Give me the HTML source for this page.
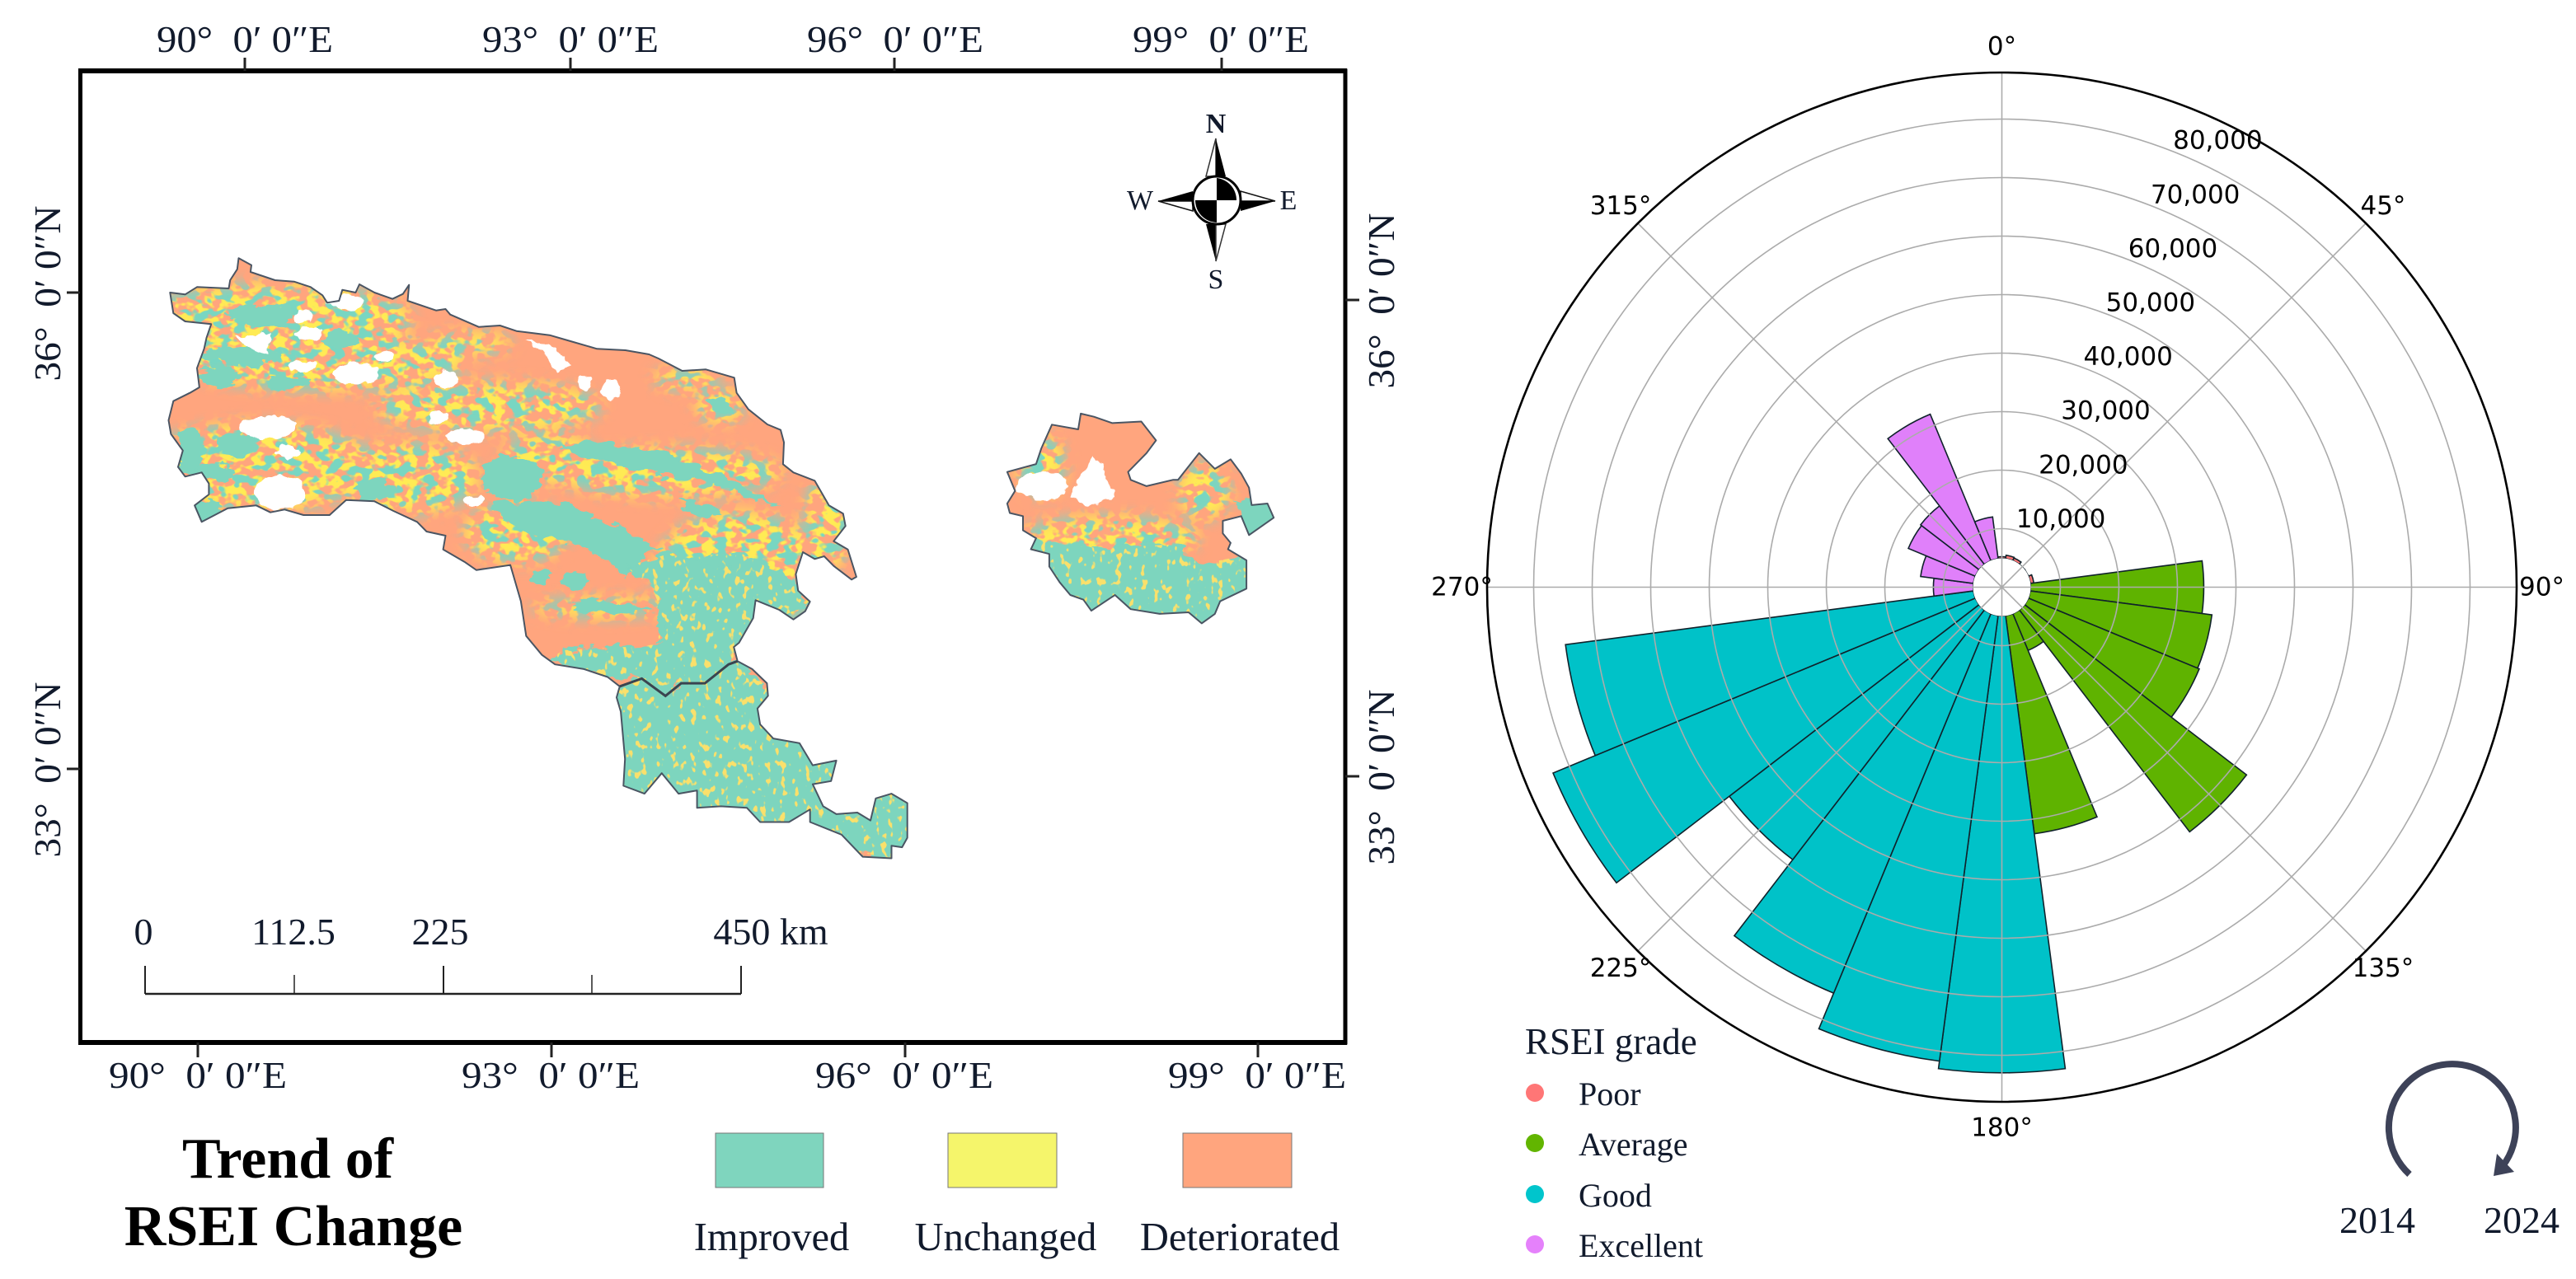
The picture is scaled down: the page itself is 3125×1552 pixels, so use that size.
<!DOCTYPE html>
<html lang="en">
<head>
<meta charset="utf-8">
<title>Trend of RSEI Change</title>
<style>
html,body{margin:0;padding:0;background:#fff;}
svg{display:block;}
.ser{font-family:"Liberation Serif",serif;fill:#111a2c;}
.dj{font-family:"DejaVu Sans",sans-serif;fill:#000;}
</style>
</head>
<body>
<svg id="root" xmlns="http://www.w3.org/2000/svg" width="3125" height="1552" viewBox="0 0 3125 1552">
<defs>
  <clipPath id="mapClip"><path id="mapClipMain"/><path id="mapClipEast"/></clipPath>
  <filter id="rough" x="-5%" y="-5%" width="110%" height="110%" color-interpolation-filters="sRGB">
    <feTurbulence type="fractalNoise" baseFrequency="0.05 0.09" numOctaves="3" seed="4" result="n"/>
    <feDisplacementMap in="SourceGraphic" in2="n" scale="20" xChannelSelector="R" yChannelSelector="G"/>
  </filter>
  <filter id="roughWhite" x="-5%" y="-5%" width="110%" height="110%" color-interpolation-filters="sRGB">
    <feTurbulence type="fractalNoise" baseFrequency="0.09" numOctaves="2" seed="9" result="n"/>
    <feDisplacementMap in="SourceGraphic" in2="n" scale="12" xChannelSelector="R" yChannelSelector="G"/>
  </filter>
  <filter id="speckYellow" x="0" y="0" width="100%" height="100%" color-interpolation-filters="sRGB">
    <feTurbulence type="fractalNoise" baseFrequency="0.075 0.1" numOctaves="2" seed="3"/>
    <feColorMatrix type="matrix" values="0 0 0 0 1  0 0 0 0 .92  0 0 0 0 .33  10 0 0 0 -4.6"/>
  </filter>
  <filter id="speckTeal" x="0" y="0" width="100%" height="100%" color-interpolation-filters="sRGB">
    <feTurbulence type="fractalNoise" baseFrequency="0.06 0.085" numOctaves="2" seed="17"/>
    <feColorMatrix type="matrix" values="0 0 0 0 .47  0 0 0 0 .84  0 0 0 0 .76  12 0 0 0 -6.3"/>
  </filter>
  <filter id="speckSparse" x="0" y="0" width="100%" height="100%" color-interpolation-filters="sRGB">
    <feTurbulence type="fractalNoise" baseFrequency="0.13 0.09" numOctaves="2" seed="23"/>
    <feColorMatrix type="matrix" values="0 0 0 0 .98  0 0 0 0 .88  0 0 0 0 .42  14 0 0 0 -8.6"/>
  </filter>
  <filter id="blurMask" x="-10%" y="-10%" width="120%" height="120%"><feGaussianBlur stdDeviation="9"/></filter>
  <mask id="mixMask" maskUnits="userSpaceOnUse" x="0" y="0" width="1700" height="1300">
    <g filter="url(#blurMask)" fill="#fff">
      <g transform="translate(150,280) scale(.5742,.3333)">
        <ellipse cx="320" cy="320" rx="290" ry="130"/>
        <ellipse cx="420" cy="480" rx="300" ry="100"/>
        <ellipse cx="280" cy="860" rx="250" ry="160"/>
        <ellipse cx="600" cy="900" rx="150" ry="130"/>
        <ellipse cx="770" cy="640" rx="240" ry="90"/>
        <ellipse cx="730" cy="410" rx="90" ry="40"/>
        <ellipse cx="1190" cy="540" rx="70" ry="40"/>
        <ellipse cx="1260" cy="640" rx="50" ry="60"/>
        <ellipse cx="1150" cy="880" rx="240" ry="90"/>
        <ellipse cx="1300" cy="1250" rx="180" ry="230"/>
        <ellipse cx="830" cy="1100" rx="110" ry="110"/>
        <ellipse cx="1490" cy="1050" rx="50" ry="180"/>
        <ellipse cx="900" cy="830" rx="100" ry="90"/>
      </g>
      <g transform="translate(600,500) scale(.6378,.3827)">
        <ellipse cx="1170" cy="400" rx="170" ry="70"/>
        <ellipse cx="1350" cy="250" rx="50" ry="90"/>
        <ellipse cx="1040" cy="170" rx="45" ry="100"/>
        <ellipse cx="200" cy="620" rx="130" ry="30"/>
      </g>
    </g>
  </mask>
  <mask id="sparseMask" maskUnits="userSpaceOnUse" x="0" y="0" width="1700" height="1300">
    <g fill="#fff">
      <g transform="translate(150,280) scale(.5742,.3333)">
        <polygon points="1130,1200 1300,1170 1440,1300 1340,1500 1130,1500"/>
      </g>
      <g transform="translate(600,500) scale(.6378,.3827)">
        <polygon points="225,880 280,845 325,900 355,860 400,860 445,800 470,780 530,900 800,1200 800,1430 230,1250"/>
        <polygon points="100,790 130,755 250,745 325,735 330,680 300,560 250,490 330,450 430,490 500,520 600,610 470,700 455,790 400,860 350,860 325,900 280,845 215,840"/>
        <polygon points="1000,380 1060,420 1150,430 1290,420 1350,480 1440,450 1440,680 1080,680 1040,470"/>
      </g>
    </g>
  </mask>
</defs>

<rect width="3125" height="1552" fill="#fff"/>

<!-- map -->
<g id="mapBody" clip-path="url(#mapClip)">
  <rect x="150" y="280" width="1450" height="800" fill="#FFA57E"/>
  <g mask="url(#mixMask)">
    <rect x="150" y="280" width="1450" height="800" filter="url(#speckYellow)"/>
    <rect x="150" y="280" width="1450" height="800" filter="url(#speckTeal)"/>
  </g>
  <g filter="url(#rough)" fill="#7DD5BE">
    <g transform="translate(150,280) scale(.5742,.3333)">
      <ellipse cx="290" cy="305" rx="70" ry="38"/>
      <ellipse cx="250" cy="455" rx="85" ry="36"/>
      <ellipse cx="200" cy="530" rx="45" ry="38"/>
      <ellipse cx="350" cy="550" rx="45" ry="30"/>
      <ellipse cx="240" cy="780" rx="45" ry="42"/>
      <ellipse cx="140" cy="800" rx="28" ry="85"/>
      <ellipse cx="190" cy="880" rx="50" ry="28"/>
      <ellipse cx="175" cy="1015" rx="30" ry="42"/>
      <ellipse cx="460" cy="395" rx="35" ry="28"/>
      <ellipse cx="530" cy="940" rx="40" ry="40"/>
      <polygon points="920,790 980,765 1060,790 1140,810 1200,850 1260,880 1340,960 1390,1005 1300,960 1200,900 1120,890 1000,840"/>
      <polygon points="1170,975 1220,990 1265,1020 1265,1045 1200,1030"/>
      <polygon points="1230,610 1270,610 1295,650 1285,685 1240,650"/>
      <ellipse cx="820" cy="900" rx="65" ry="75"/>
      <polygon points="780,990 860,980 950,1000 1000,1050 1050,1080 1140,1160 1100,1190 1060,1260 1020,1190 940,1130 860,1110 800,1050"/>
      <polygon points="1130,1200 1300,1170 1440,1300 1340,1500 1130,1500"/>
      <ellipse cx="885" cy="1260" rx="18" ry="30"/>
      <ellipse cx="950" cy="1275" rx="25" ry="30"/>
      <polygon points="960,1345 1040,1350 1120,1380 1040,1400 950,1380"/>
    </g>
    <g transform="translate(600,500) scale(.6378,.3827)">
      <polygon points="225,880 280,845 325,900 355,860 400,860 445,800 470,780 530,900 800,1200 800,1430 230,1250"/>
      <polygon points="100,790 130,755 250,745 325,735 330,680 300,560 250,490 330,450 430,490 500,520 600,610 470,700 455,790 400,860 350,860 325,900 280,845 215,840"/>
      <polygon points="1000,380 1060,420 1150,430 1290,420 1350,480 1440,450 1440,680 1080,680 1040,470"/>
      <polygon points="1410,280 1490,290 1490,395 1430,395"/>
    </g>
  </g>
  <rect x="150" y="280" width="1450" height="800" filter="url(#speckSparse)" mask="url(#sparseMask)"/>
  <g filter="url(#roughWhite)" fill="#fff">
    <g transform="translate(150,280) scale(.5742,.3333)">
      <polygon points="235,385 310,370 305,440 280,440"/>
      <ellipse cx="380" cy="312" rx="20" ry="23"/>
      <ellipse cx="392" cy="375" rx="30" ry="25"/>
      <ellipse cx="492" cy="520" rx="46" ry="40"/>
      <ellipse cx="682" cy="545" rx="22" ry="35"/>
      <polygon points="845,395 900,410 950,490 915,515 890,450"/>
      <ellipse cx="1030" cy="582" rx="20" ry="38"/>
      <ellipse cx="975" cy="555" rx="15" ry="28"/>
      <ellipse cx="665" cy="682" rx="20" ry="28"/>
      <ellipse cx="720" cy="748" rx="40" ry="28"/>
      <ellipse cx="305" cy="715" rx="60" ry="42"/>
      <ellipse cx="330" cy="955" rx="55" ry="62"/>
      <ellipse cx="350" cy="805" rx="28" ry="20"/>
      <ellipse cx="740" cy="982" rx="20" ry="20"/>
      <ellipse cx="375" cy="495" rx="30" ry="18"/>
      <ellipse cx="548" cy="455" rx="22" ry="18"/>
      <ellipse cx="470" cy="260" rx="40" ry="28"/>
    </g>
    <g transform="translate(600,500) scale(.6378,.3827)">
      <ellipse cx="1042" cy="232" rx="48" ry="46"/>
      <polygon points="1140,140 1160,190 1180,270 1130,300 1095,270 1110,210"/>
    </g>
  </g>
</g>
<path id="mapOutlineMain" fill="none" stroke="#4a5563" stroke-width="2" stroke-linejoin="round"/>
<path id="mapOutlineEast" fill="none" stroke="#4a5563" stroke-width="2" stroke-linejoin="round"/>
<polyline transform="translate(600,500) scale(.6378,.3827)" points="238,870 280,845 325,900 355,860 400,860 445,800 462,790" fill="none" stroke="#3a4450" stroke-width="3" vector-effect="non-scaling-stroke"/>

<!-- map frame -->
<g>
  <rect x="97.5" y="86" width="1534.5" height="1179" fill="none" stroke="#000" stroke-width="5"/>
  <line x1="95" y1="1265" x2="1634" y2="1265" stroke="#000" stroke-width="6"/>
  <line x1="95" y1="86" x2="1634" y2="86" stroke="#000" stroke-width="6"/>
</g>
<g stroke="#222" stroke-width="3">
  <line x1="297" y1="70" x2="297" y2="86"/><line x1="692" y1="70" x2="692" y2="86"/><line x1="1085" y1="70" x2="1085" y2="86"/><line x1="1482" y1="70" x2="1482" y2="86"/>
  <line x1="240" y1="1265" x2="240" y2="1283"/><line x1="669" y1="1265" x2="669" y2="1283"/><line x1="1098" y1="1265" x2="1098" y2="1283"/><line x1="1526" y1="1265" x2="1526" y2="1283"/>
  <line x1="81" y1="355" x2="97" y2="355"/><line x1="81" y1="933" x2="97" y2="933"/>
  <line x1="1632" y1="364" x2="1649" y2="364"/><line x1="1632" y1="942" x2="1649" y2="942"/>
</g>
<g class="ser" font-size="46" text-anchor="middle">
  <text x="297" y="63" textLength="214" lengthAdjust="spacingAndGlyphs" xml:space="preserve">90°  0′ 0″E</text>
  <text x="692" y="63" textLength="214" lengthAdjust="spacingAndGlyphs" xml:space="preserve">93°  0′ 0″E</text>
  <text x="1086" y="63" textLength="214" lengthAdjust="spacingAndGlyphs" xml:space="preserve">96°  0′ 0″E</text>
  <text x="1481" y="63" textLength="214" lengthAdjust="spacingAndGlyphs" xml:space="preserve">99°  0′ 0″E</text>
</g>
<g class="ser" font-size="46" text-anchor="middle">
  <text x="240" y="1320" textLength="216" lengthAdjust="spacingAndGlyphs" xml:space="preserve">90°  0′ 0″E</text>
  <text x="668" y="1320" textLength="216" lengthAdjust="spacingAndGlyphs" xml:space="preserve">93°  0′ 0″E</text>
  <text x="1097" y="1320" textLength="216" lengthAdjust="spacingAndGlyphs" xml:space="preserve">96°  0′ 0″E</text>
  <text x="1525" y="1320" textLength="216" lengthAdjust="spacingAndGlyphs" xml:space="preserve">99°  0′ 0″E</text>
</g>
<g class="ser" font-size="46" text-anchor="middle">
  <text transform="translate(73,356) rotate(-90)" textLength="213" lengthAdjust="spacingAndGlyphs" xml:space="preserve">36°  0′ 0″N</text>
  <text transform="translate(73,934) rotate(-90)" textLength="213" lengthAdjust="spacingAndGlyphs" xml:space="preserve">33°  0′ 0″N</text>
  <text transform="translate(1691,365) rotate(-90)" textLength="213" lengthAdjust="spacingAndGlyphs" xml:space="preserve">36°  0′ 0″N</text>
  <text transform="translate(1691,943) rotate(-90)" textLength="213" lengthAdjust="spacingAndGlyphs" xml:space="preserve">33°  0′ 0″N</text>
</g>

<!-- compass -->
<g>
  <polygon points="1475,168 1463,214 1475,214" fill="#fff" stroke="#333" stroke-width="1.5"/>
  <polygon points="1475,168 1487,214 1475,214" fill="#000"/>
  <polygon points="1475,317 1463,272 1475,272" fill="#000"/>
  <polygon points="1475,317 1487,272 1475,272" fill="#fff" stroke="#333" stroke-width="1.5"/>
  <polygon points="1405,244 1447,232 1447,244" fill="#000"/>
  <polygon points="1405,244 1447,256 1447,244" fill="#fff" stroke="#111" stroke-width="1.5"/>
  <polygon points="1547,244 1505,232 1505,244" fill="#fff" stroke="#111" stroke-width="1.5"/>
  <polygon points="1547,244 1505,256 1505,244" fill="#000"/>
  <circle cx="1476" cy="243" r="29" fill="#fff" stroke="#000" stroke-width="3"/>
  <path d="M1476 243V216A27 27 0 0 1 1500 243Z" fill="#000"/>
  <path d="M1476 243V270A27 27 0 0 1 1450 243Z" fill="#000"/>
  <g class="ser" font-size="34" text-anchor="middle">
    <text x="1475" y="161" font-weight="bold">N</text>
    <text x="1475" y="350">S</text>
    <text x="1383" y="254">W</text>
    <text x="1563" y="254">E</text>
  </g>
</g>

<!-- scale bar -->
<g>
  <g stroke="#222" fill="none">
    <line x1="176" y1="1206" x2="899" y2="1206" stroke-width="2.5"/>
    <line x1="176" y1="1172" x2="176" y2="1206" stroke-width="2"/>
    <line x1="538" y1="1172" x2="538" y2="1206" stroke-width="2"/>
    <line x1="899" y1="1172" x2="899" y2="1206" stroke-width="2"/>
    <line x1="357" y1="1183" x2="357" y2="1206" stroke-width="1.5"/>
    <line x1="718" y1="1183" x2="718" y2="1206" stroke-width="1.5"/>
  </g>
  <g class="ser" font-size="46" text-anchor="middle" xml:space="preserve">
    <text x="174" y="1146">0</text>
    <text x="356" y="1146">112.5</text>
    <text x="534" y="1146">225</text>
    <text x="935" y="1146">450  km</text>
  </g>
</g>

<!-- map legend -->
<g font-family="'Liberation Serif',serif" font-weight="bold" font-size="70" text-anchor="middle" fill="#000">
  <text x="349" y="1429">Trend of</text>
  <text x="356" y="1511">RSEI Change</text>
</g>
<g>
  <rect x="868" y="1375" width="131" height="66" fill="#7FD5BE" stroke="#777" stroke-width="1"/>
  <rect x="1150" y="1375" width="132" height="66" fill="#F5F56B" stroke="#777" stroke-width="1"/>
  <rect x="1435" y="1375" width="132" height="66" fill="#FFA57E" stroke="#777" stroke-width="1"/>
  <g class="ser" font-size="48.5" text-anchor="middle">
    <text x="936" y="1517">Improved</text>
    <text x="1220" y="1517">Unchanged</text>
    <text x="1504" y="1517">Deteriorated</text>
  </g>
</g>

<!-- polar chart -->
<g id="polar"></g>

<!-- polar legend -->
<g>
  <text class="ser" x="1850" y="1279" font-size="45">RSEI grade</text>
  <g><circle cx="1862" cy="1326" r="11" fill="#FF7676"/><text class="ser" x="1915" y="1341" font-size="40">Poor</text></g>
  <g><circle cx="1862" cy="1387" r="11" fill="#62B500"/><text class="ser" x="1915" y="1402" font-size="40">Average</text></g>
  <g><circle cx="1862" cy="1449" r="11" fill="#00C5CC"/><text class="ser" x="1915" y="1464" font-size="40">Good</text></g>
  <g><circle cx="1862" cy="1510" r="11" fill="#E581FB"/><text class="ser" x="1915" y="1525" font-size="40">Excellent</text></g>
</g>

<!-- time direction -->
<g>
  <path d="M2923 1425A77 77 0 1 1 3036 1415" fill="none" stroke="#3d4258" stroke-width="8"/>
  <polygon points="3029,1400 3050,1422 3025,1427" fill="#3d4258"/>
  <text class="ser" x="2884" y="1496" font-size="46" text-anchor="middle">2014</text>
  <text class="ser" x="3059" y="1496" font-size="46" text-anchor="middle">2024</text>
</g>

<script>
// ---- polar chart data ----
const binAngles = [0,15,30,45,60,75,90,105,120,135,150,165,180,195,210,225,240,255,270,285,300,315,330,345];
const binGrades = ["Poor","Poor","Poor","Poor","Poor","Poor","Average","Average","Average","Average","Average","Average","Good","Good","Good","Good","Good","Good","Excellent","Excellent","Excellent","Excellent","Excellent","Excellent"];
const binValues = [5200,5500,5400,4500,4500,5500,34500,36200,36500,52700,11700,42500,83000,81700,75100,58700,83000,75200,11700,14000,17300,17500,32000,12100];
const radialTicks = [10000,20000,30000,40000,50000,60000,70000,80000];
const angleTicks = [0,45,90,135,180,225,270,315];
const gradeNames = ["Poor","Average","Good","Excellent"];
const gradeColors = ["#FF7676","#5FB300","#00C2C8","#E080FA"];

const NS = "http://www.w3.org/2000/svg";
const cx = 2428.5, cy = 712.5, outerR = 624.5, holeR = 35, pxPerUnit = 0.0071, binWidth = 15;
const rScale = v => v * pxPerUnit;
const pt = (deg, r) => {
  const a = deg * Math.PI / 180;
  return [cx + r * Math.sin(a), cy - r * Math.cos(a)];
};
const polar = document.getElementById("polar");
function mk(tag, attrs, parent) {
  const el = document.createElementNS(NS, tag);
  for (const k in attrs) el.setAttribute(k, attrs[k]);
  (parent || polar).appendChild(el);
  return el;
}

const plotBg = mk("circle", {cx, cy, r: outerR, fill: "#fff"});



binValues.forEach((v, i) => {
  const a0 = binAngles[i] - binWidth / 2, a1 = binAngles[i] + binWidth / 2, r = rScale(v);
  const p0 = pt(a0, holeR), p1 = pt(a0, r), p2 = pt(a1, r), p3 = pt(a1, holeR);
  const color = gradeColors[gradeNames.indexOf(binGrades[i])];
  const bar = mk("path", {
    d: `M${p0}L${p1}A${r} ${r} 0 0 1 ${p2}L${p3}Z`,
    fill: color, stroke: "#10222b", "stroke-width": 1.6, "stroke-linejoin": "miter"
  });
  
  
});

const hole = mk("circle", {cx, cy, r: holeR, fill: "#fff"});



radialTicks.forEach(t => {
  const ring = mk("circle", {cx, cy, r: rScale(t), fill: "none", stroke: "#ababab", "stroke-width": 1.6});
  
  
});
angleTicks.forEach(a => {
  const e = pt(a, outerR);
  const spoke = mk("line", {x1: cx, y1: cy, x2: e[0], y2: e[1], stroke: "#ababab", "stroke-width": 1.6});
  
  
});

const frame = mk("circle", {cx, cy, r: outerR, fill: "none", stroke: "#000", "stroke-width": 2.6});



radialTicks.forEach(t => {
  const p = pt(22.5, rScale(t));
  const lab = mk("text", {x: p[0] + 44.5, y: p[1] - 17, class: "dj", "font-size": 31, "text-anchor": "middle", "dominant-baseline": "central"});
  lab.textContent = t.toLocaleString("en-US");
  
  
});
angleTicks.forEach(a => {
  const s = Math.sin(a * Math.PI / 180), c = Math.cos(a * Math.PI / 180);
  const rx = Math.abs(s) > 0.99 ? 655 : (Math.abs(c) > 0.99 ? 656 : 654);
  const x = cx + s * rx, y = cy - c * (Math.abs(c) > 0.99 ? 656 : 654);
  const lab = mk("text", {x, y, class: "dj", "font-size": 31, "text-anchor": "middle", "dominant-baseline": "central"});
  lab.textContent = a + "°";
  
  
});

// ---- map outlines ----
const z3 = p => [150 + p[0] * 0.5742, 280 + p[1] / 3];
const z4 = p => [600 + p[0] * 0.6378, 500 + p[1] * 0.3827];
const northA = [[98,225],[130,232],[155,205],[222,210],[225,180],[240,140],[243,100],[270,125],[268,150],[320,180],[360,185],[395,205],[420,235],[430,262],[455,255],[462,215],[490,225],[498,195],[530,225],[568,248],[590,230],[603,197],[600,255],[660,290],[680,285],[690,305],[750,350],[795,345],[830,365],[900,380],[950,405],[1000,430],[1060,435],[1110,450],[1130,465],[1180,510],[1230,505],[1290,535],[1295,590],[1320,650],[1360,705],[1388,725],[1395,770],[1393,850],[1415,880],[1460,910],[1490,1000],[1520,1030],[1525,1075],[1500,1130],[1530,1160],[1548,1260],[1538,1270],[1500,1220],[1480,1185],[1460,1195],[1435,1170],[1420,1250],[1425,1310],[1450,1350],[1440,1385],[1415,1415],[1385,1380],[1335,1345],[1330,1410],[1300,1500]];
const south = [[455,745],[462,790],[490,815],[518,860],[520,900],[500,940],[505,990],[530,1035],[580,1050],[605,1120],[650,1105],[640,1170],[605,1180],[625,1250],[650,1275],[690,1270],[715,1295],[725,1225],[755,1210],[785,1240],[785,1350],[775,1380],[755,1375],[755,1415],[700,1410],[660,1340],[600,1300],[600,1260],[560,1300],[505,1300],[480,1255],[430,1250],[385,1255],[385,1200],[350,1210],[318,1145],[285,1210],[245,1185],[248,1100],[240,950],[232,905],[238,870],[215,840],[170,815],[115,800],[90,770],[60,710],[50,600],[30,485]];
const northB = [[745,1235],[720,1205],[675,1160],[680,1110],[640,1095],[620,1060],[570,1020],[530,985],[470,980],[435,1035],[380,1035],[340,1015],[310,1025],[280,1000],[220,1010],[165,1060],[150,1000],[180,960],[180,920],[165,880],[130,895],[115,860],[125,800],[100,740],[95,690],[105,620],[140,590],[160,570],[155,500],[170,430],[175,390],[185,340],[130,330],[105,300]];
const east = [[1115,5],[1140,15],[1175,35],[1230,30],[1258,90],[1240,130],[1205,190],[1210,215],[1240,235],[1290,215],[1300,215],[1340,130],[1370,180],[1400,150],[1420,195],[1435,240],[1440,295],[1470,290],[1482,335],[1435,390],[1420,330],[1385,345],[1385,385],[1400,415],[1395,435],[1430,470],[1430,560],[1380,600],[1370,640],[1345,670],[1320,635],[1265,640],[1210,625],[1180,580],[1135,630],[1120,595],[1095,580],[1075,540],[1055,490],[1055,450],[1020,435],[1030,400],[1005,375],[1005,330],[980,320],[975,290],[990,250],[975,190],[1030,165],[1040,115],[1060,40],[1110,55]];
const toPath = pts => "M" + pts.map(p => p[0].toFixed(1) + " " + p[1].toFixed(1)).join("L") + "Z";
const mainD = toPath(northA.map(z3).concat(south.map(z4), northB.map(z3)));
const eastD = toPath(east.map(z4));
document.getElementById("mapClipMain").setAttribute("d", mainD);
document.getElementById("mapOutlineMain").setAttribute("d", mainD);
document.getElementById("mapClipEast").setAttribute("d", eastD);
document.getElementById("mapOutlineEast").setAttribute("d", eastD);
</script>
</svg>
</body>
</html>
